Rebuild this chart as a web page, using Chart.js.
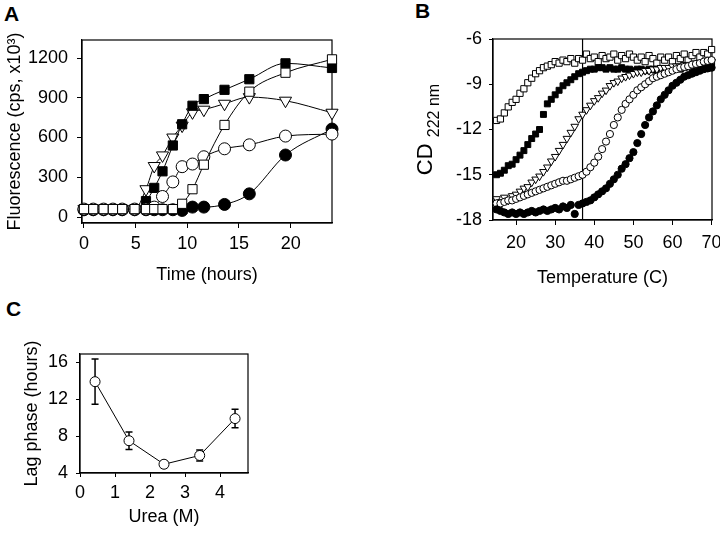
<!DOCTYPE html>
<html>
<head>
<meta charset="utf-8">
<script src="https://cdn.jsdelivr.net/npm/chart.js@4.4.0/dist/chart.umd.min.js"></script>
<style>
  body { margin: 0; background: #fff; width: 720px; height: 535px; position: relative; overflow: hidden; font-family: "Liberation Sans", Arial, sans-serif; }
  canvas { position: absolute; }
  .letter { position: absolute; font-weight: bold; font-size: 21px; line-height: 21px; color: #000; }
</style>
</head>
<body>
<div class="letter" style="left:4px;top:3px">A</div>
<div class="letter" style="left:415px;top:0px">B</div>
<div class="letter" style="left:6px;top:298px">C</div>
<canvas id="chart-a" width="345" height="290" style="left:0;top:0"></canvas>
<canvas id="chart-b" width="380" height="290" style="left:360px;top:0"></canvas>
<canvas id="chart-c" width="300" height="235" style="left:0;top:300px"></canvas>
<script>
'use strict';

// PANEL A - fluorescence vs time

let hoursA = [0, 0.9, 1.9, 2.8, 3.7, 4.9, 6, 6.8, 7.6, 8.6, 9.5, 10.5, 11.6, 13.6, 16, 19.5, 24];
let filledSquaresA = [60, 60, 60, 60, 60, 60, 120, 220, 345, 540, 700, 840, 890, 960, 1040, 1160, 1125];
let trianglesA = [60, 60, 60, 60, 60, 60, 210, 385, 465, 600, 690, 790, 810, 855, 905, 878, 787];
let openCirclesA = [60, 60, 60, 60, 60, 60, 60, 75, 155, 265, 380, 400, 455, 515, 545, 611, 626];
let openSquaresA = [60, 60, 60, 60, 60, 60, 60, 60, 60, 60, 100, 210, 395, 695, 946, 1089, 1190];
let filledCirclesA = [55, 55, 55, 55, 55, 55, 55, 55, 55, 55, 50, 75, 75, 95, 175, 468, 664];
let xTicksA = [0, 5, 10, 15, 20];
let yTicksA = [0, 300, 600, 900, 1200];

// PANEL B - CD signal vs temperature

let tempsB = [15, 16, 17, 18, 19, 20, 21, 22, 23, 24, 25, 26, 27, 28, 29, 30, 31, 32, 33, 34, 35, 36, 37, 38, 39, 40, 41, 42,
  43, 44, 45, 46, 47, 48, 49, 50, 51, 52, 53, 54, 55, 56, 57, 58, 59, 60, 61, 62, 63, 64, 65, 66, 67, 68, 69, 70];
let openSquaresB = [-11.4, -11.3, -10.9, -10.5, -10.2, -10.0, -9.6, -9.3, -8.9, -8.6, -8.3, -8.1, -7.9, -7.8, -7.7, -7.5, -7.6, -7.4, -7.5, -7.3, -7.6, -7.3, -7.4, -7.0, -7.3, -7.2, -7.5, -7.1,
  -7.3, -7.2, -7.0, -7.4, -7.1, -7.3, -7.0, -7.2, -7.4, -7.2, -7.5, -7.1, -7.3, -7.6, -7.2, -7.4, -7.2, -7.5, -7.1, -7.3, -7.0, -7.4, -7.1, -6.9, -7.2, -6.9, -7.0, -6.7];
let filledSquaresB = [-15.0, -14.9, -14.7, -14.4, -14.3, -14.0, -13.7, -13.4, -13.0, -12.6, -12.3, -12.0, -11.0, -10.3, -10.0, -9.7, -9.4, -9.1, -8.9, -8.7, -8.5, -8.3, -8.2, -8.1, -8.0, -8.0, -7.9, -7.9,
  -8.0, -7.9, -8.0, -8.0, -7.9, -8.0, -8.0, -8.1, -8.0, -8.0, -8.1, -8.0, -8.0, -8.1, -8.0, -8.0, -8.1, -8.0, -7.9, -8.0, -7.9, -7.8, -7.9, -7.7, -7.8, -7.6, -7.7, -7.6];
let trianglesB = [-16.6, -16.8, -16.5, -16.7, -16.4, -16.3, -16.1, -15.9, -15.8, -15.5, -15.3, -15.1, -14.8, -14.5, -14.1, -13.8, -13.4, -13.0, -12.6, -12.2, -11.8, -11.3, -11.0, -10.7, -10.4, -10.1, -9.9, -9.6,
  -9.4, -9.1, -8.9, -8.8, -8.6, -8.5, -8.4, -8.3, -8.2, -8.2, -8.1, -8.1, -8.0, -8.0, -7.9, -7.9, -7.9, -7.8, -7.8, -7.8, -7.7, -7.7, -7.7, -7.6, -7.6, -7.6, -7.5, -7.5];
let openCirclesB = [-16.9, -16.9, -16.8, -16.7, -16.7, -16.6, -16.5, -16.4, -16.3, -16.2, -16.1, -16.0, -15.9, -15.8, -15.7, -15.6, -15.5, -15.4, -15.4, -15.3, -15.2, -15.1, -15.0, -14.8, -14.5, -14.2, -13.8, -13.3,
  -12.8, -12.3, -11.7, -11.2, -10.7, -10.3, -10.0, -9.7, -9.4, -9.2, -9.0, -8.8, -8.6, -8.5, -8.4, -8.3, -8.2, -8.1, -8.0, -7.9, -7.85, -7.8, -7.7, -7.65, -7.6, -7.5, -7.45, -7.4];
let filledCirclesB = [-17.3, -17.4, -17.5, -17.6, -17.5, -17.6, -17.5, -17.6, -17.5, -17.4, -17.5, -17.4, -17.3, -17.4, -17.3, -17.2, -17.3, -17.1, -17.2, -17.0, -17.6, -17.0, -16.9, -16.8, -16.7, -16.5, -16.3, -16.1,
  -15.9, -15.6, -15.3, -15.0, -14.6, -14.3, -13.9, -13.5, -12.9, -12.3, -11.7, -11.2, -10.8, -10.4, -10.0, -9.7, -9.4, -9.1, -8.9, -8.7, -8.5, -8.4, -8.3, -8.2, -8.1, -8.0, -7.95, -7.9];
let xTicksB = [20, 30, 40, 50, 60, 70];
let yTicksB = [-18, -15, -12, -9, -6];
let bodyTempB = 37;

// PANEL C - lag phase vs urea

let ureaC = [0.43, 1.4, 2.4, 3.42, 4.43];
let lagC = [13.9, 7.5, 4.95, 5.9, 9.9];
let errC = [2.45, 0.95, 0.35, 0.6, 1.0];
let xTicksC = [0, 1, 2, 3, 4];
let yTicksC = [4, 8, 12, 16];

Chart.defaults.font.family = '"Liberation Sans", Arial, sans-serif';
Chart.defaults.font.size = 18;
Chart.defaults.color = '#000';

// HELPERS

function toPoints(xs, ys) {
  return xs.map((x, i) => ({ x: x, y: ys[i] }));
}

function setTicks(list) {
  return function (scale) {
    scale.ticks = list.map(v => ({ value: v }));
  };
}

// note: chart.js paints dataset 0 last, so list the top-most series first
function marker(label, xs, ys, style, filled, radius, showLine) {
  return {
    label: label,
    data: toPoints(xs, ys),
    showLine: showLine,
    borderColor: '#000',
    borderWidth: 1,
    pointStyle: style,
    pointRotation: style === 'triangle' ? 180 : 0,
    pointRadius: radius,
    pointBackgroundColor: filled ? '#000' : '#fff',
    pointBorderColor: '#000',
    pointBorderWidth: 1,
    cubicInterpolationMode: 'monotone',
    clip: false
  };
}

function axis(opts) {
  return {
    type: 'linear',
    min: opts.min,
    max: opts.max,
    afterBuildTicks: setTicks(opts.ticks),
    afterFit: opts.fit,
    grid: { display: true, drawOnChartArea: false, drawTicks: true, tickLength: opts.tickLength, color: '#000' },
    border: { display: true, color: '#000', width: 1.2 },
    ticks: { padding: opts.padding, color: '#000', font: { size: 18 }, callback: v => String(v) },
    title: opts.title ? { display: true, text: opts.title, color: '#000', font: { size: 18 }, padding: opts.titlePadding } : { display: false }
  };
}

// draws the closed frame around the plot area, plus any extras
function framePlugin(extra) {
  return {
    id: 'frame',
    beforeDatasetsDraw(chart) {
      let ctx = chart.ctx;
      let a = chart.chartArea;
      ctx.save();
      ctx.strokeStyle = '#000';
      ctx.lineWidth = 1.2;
      ctx.strokeRect(a.left, a.top, a.right - a.left, a.bottom - a.top);
      if (extra) extra(chart, ctx);
      ctx.restore();
    }
  };
}

let baseOptions = {
  responsive: false,
  animation: false,
  events: [],
  plugins: { legend: { display: false }, tooltip: { enabled: false } }
};

// CHART A

new Chart(document.getElementById('chart-a'), {
  type: 'scatter',
  data: {
    datasets: [
      marker('open squares', hoursA, openSquaresA, 'rect', false, 6.5, true),
      marker('open circles', hoursA, openCirclesA, 'circle', false, 6, true),
      marker('filled squares', hoursA, filledSquaresA, 'rect', true, 6.5, true),
      marker('triangles', hoursA, trianglesA, 'triangle', false, 7, true),
      marker('filled circles', hoursA, filledCirclesA, 'circle', true, 6, true)
    ]
  },
  options: Object.assign({}, baseOptions, {
    layout: { padding: { top: 40, right: 13, left: 0, bottom: 0 } },
    scales: {
      x: axis({ min: -0.19, max: 24, ticks: xTicksA, tickLength: 5, padding: 5,
        fit: s => { s.height = 67; }, title: 'Time (hours)', titlePadding: { top: 0, bottom: 4 } }),
      y: axis({ min: -45, max: 1336, ticks: yTicksA, tickLength: 5, padding: 9,
        fit: s => { s.width = 82; }, title: 'Fluorescence (cps, x10\u00b3)', titlePadding: { top: 4, bottom: 0 } })
    }
  }),
  plugins: [framePlugin()]
});

// CHART B

function drawBodyTempAndLabel(chart, ctx) {
  let a = chart.chartArea;
  let px = chart.scales.x.getPixelForValue(bodyTempB);
  ctx.beginPath();
  ctx.moveTo(px, a.top);
  ctx.lineTo(px, a.bottom);
  ctx.stroke();

  // y title "CD 222 nm" with subscript
  let big = '22px "Liberation Sans", Arial, sans-serif';
  let small = '16px "Liberation Sans", Arial, sans-serif';
  ctx.font = big;
  let wBig = ctx.measureText('CD ').width;
  ctx.font = small;
  let wSmall = ctx.measureText('222 nm').width;
  let total = wBig + wSmall;
  ctx.translate(72, (a.top + a.bottom) / 2);
  ctx.rotate(-Math.PI / 2);
  ctx.fillStyle = '#000';
  ctx.textBaseline = 'alphabetic';
  ctx.textAlign = 'left';
  ctx.font = big;
  ctx.fillText('CD', -total / 2, 0);
  ctx.font = small;
  ctx.fillText('222 nm', -total / 2 + wBig, 7);
}

new Chart(document.getElementById('chart-b'), {
  type: 'scatter',
  data: {
    datasets: [
      marker('filled circles', tempsB, filledCirclesB, 'circle', true, 3.6, false),
      marker('open circles', tempsB, openCirclesB, 'circle', false, 3.6, false),
      marker('triangles', tempsB, trianglesB, 'triangle', false, 4.4, false),
      marker('filled squares', tempsB, filledSquaresB, 'rect', true, 4.2, false),
      marker('open squares', tempsB, openSquaresB, 'rect', false, 4.4, false)
    ]
  },
  options: Object.assign({}, baseOptions, {
    layout: { padding: { top: 39, right: 28, left: 0, bottom: 0 } },
    scales: {
      x: axis({ min: 14.1, max: 70.1, ticks: xTicksB, tickLength: 5, padding: 7,
        fit: s => { s.height = 70; }, title: 'Temperature (C)', titlePadding: { top: 0, bottom: 1 } }),
      y: axis({ min: -18, max: -6, ticks: yTicksB, tickLength: 4, padding: 7,
        fit: s => { s.width = 133; } })
    }
  }),
  plugins: [framePlugin(drawBodyTempAndLabel)]
});

// CHART C

function drawErrorBars(chart, ctx) {
  let xs = chart.scales.x;
  let ys = chart.scales.y;
  ctx.lineWidth = 1.5;
  for (let i = 0; i < ureaC.length; i++) {
    let px = xs.getPixelForValue(ureaC[i]);
    let top = ys.getPixelForValue(lagC[i] + errC[i]);
    let bottom = ys.getPixelForValue(lagC[i] - errC[i]);
    ctx.beginPath();
    ctx.moveTo(px, top);
    ctx.lineTo(px, bottom);
    ctx.moveTo(px - 3.5, top);
    ctx.lineTo(px + 3.5, top);
    ctx.moveTo(px - 3.5, bottom);
    ctx.lineTo(px + 3.5, bottom);
    ctx.stroke();
  }
}

new Chart(document.getElementById('chart-c'), {
  type: 'scatter',
  data: {
    datasets: [
      Object.assign(marker('lag phase', ureaC, lagC, 'circle', false, 5, true), { cubicInterpolationMode: 'default', tension: 0 })
    ]
  },
  options: Object.assign({}, baseOptions, {
    layout: { padding: { top: 54, right: 52, left: 0, bottom: 0 } },
    scales: {
      x: axis({ min: 0, max: 4.8, ticks: xTicksC, tickLength: 4, padding: 5,
        fit: s => { s.height = 62; }, title: 'Urea (M)', titlePadding: { top: 0, bottom: 7 } }),
      y: axis({ min: 4, max: 16.9, ticks: yTicksC, tickLength: 4, padding: 8,
        fit: s => { s.width = 80; }, title: 'Lag phase (hours)', titlePadding: { top: 21, bottom: 0 } })
    }
  }),
  plugins: [framePlugin(drawErrorBars)]
});
</script>
</body>
</html>
